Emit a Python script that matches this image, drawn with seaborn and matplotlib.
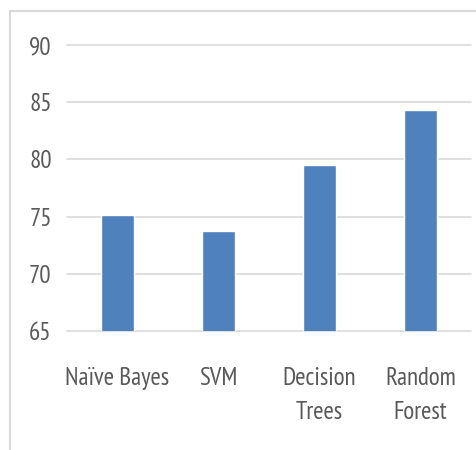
import matplotlib
matplotlib.use("Agg")
import matplotlib.pyplot as plt
import seaborn as sns
import pandas as pd
from matplotlib.patches import Rectangle

# Classifier accuracy (%)
classifiers = ["Naïve Bayes", "SVM", "Decision\nTrees", "Random\nForest"]
accuracy = [75.15, 73.7, 79.5, 84.3]
y_ticks = [65, 70, 75, 80, 85, 90]

df = pd.DataFrame({"classifier": classifiers, "accuracy": accuracy})

sns.set_theme(style="white")
plt.rcParams["font.family"] = ["PT Sans Narrow", "DejaVu Sans"]

fig = plt.figure(figsize=(4.76, 4.5), dpi=100)
ax = fig.add_axes([67 / 476, 1 - 331 / 450, (471 - 67) / 476, (331 - 45) / 450])

sns.barplot(data=df, x="classifier", y="accuracy", color="#4f81bd",
            saturation=1, width=0.33, ax=ax, zorder=3)

ax.set_ylim(65, 90)
ax.set_yticks(y_ticks)
ax.set_xlim(-0.5, 3.5)
ax.yaxis.grid(True, color="#d9d9d9", linewidth=1.2, zorder=0)
for gl in ax.get_ygridlines():
    gl.set_clip_on(False)
ax.set_axisbelow(True)
for s in ax.spines.values():
    s.set_visible(False)
ax.set_xlabel("")
ax.set_ylabel("")
ax.tick_params(axis="both", length=0, colors="#595959", labelsize=18)
ax.tick_params(axis="y", pad=11)
ax.tick_params(axis="x", pad=26)
for lbl in ax.get_xticklabels():
    lbl.set_linespacing(1.6)

# Outer chart frame
fig.patches.append(Rectangle((10 / 476, -0.1), 1.2, 1 - 11 / 450 + 0.1,
                             transform=fig.transFigure, fill=False,
                             edgecolor="#d9d9d9", linewidth=1.5))

fig.savefig("out.png", dpi=100, facecolor="white")
